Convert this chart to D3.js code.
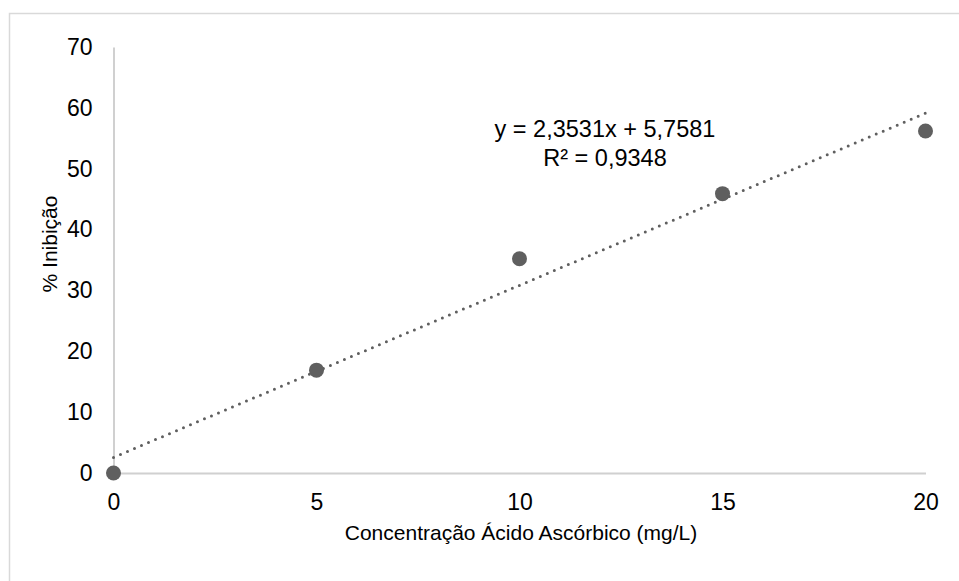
<!DOCTYPE html>
<html>
<head>
<meta charset="utf-8">
<script src="https://cdn.jsdelivr.net/npm/d3@7"></script>
<style>
  body { margin: 0; background: #fff; }
  text { font-family: "Liberation Sans", Arial, sans-serif; fill: #000; }
</style>
</head>
<body>
<div id="vis"></div>
<script>
// frame
const FRAME_WIDTH = 959;
const FRAME_HEIGHT = 581;
const MARGINS = { left: 113.5, right: 33.5, top: 47, bottom: 108 };

// data
const conc = [0, 5, 10, 15, 20];
const inhib = [0, 16.9, 35.2, 45.9, 56.2];
const xTicks = [0, 5, 10, 15, 20];
const yTicks = [0, 10, 20, 30, 40, 50, 60, 70];
const eqLines = ["y = 2,3531x + 5,7581", "R² = 0,9348"];

const VIS_WIDTH = FRAME_WIDTH - MARGINS.left - MARGINS.right;
const VIS_HEIGHT = FRAME_HEIGHT - MARGINS.top - MARGINS.bottom;

const svg = d3.select("#vis")
    .append("svg")
    .attr("width", FRAME_WIDTH)
    .attr("height", FRAME_HEIGHT);

// chart border (only top and left visible in the crop)
svg.append("path")
    .attr("d", `M9.5,${FRAME_HEIGHT} V13.5 H${FRAME_WIDTH}`)
    .attr("fill", "none")
    .attr("stroke", "#d9d9d9")
    .attr("stroke-width", 1.5);

const X_SCALE = d3.scaleLinear().domain([0, 20]).range([0, VIS_WIDTH]);
const Y_SCALE = d3.scaleLinear().domain([0, 70]).range([VIS_HEIGHT, 0]);

const g = svg.append("g")
    .attr("transform", `translate(${MARGINS.left},${MARGINS.top})`);

// axes
const xAxis = g.append("g")
    .attr("transform", `translate(0,${VIS_HEIGHT})`)
    .call(d3.axisBottom(X_SCALE).tickValues(xTicks).tickSize(0).tickPadding(21));
const yAxis = g.append("g")
    .call(d3.axisLeft(Y_SCALE).tickValues(yTicks).tickSize(0).tickPadding(21));

[xAxis, yAxis].forEach(ax => {
    ax.select(".domain").attr("stroke", "#d0d0d0").attr("stroke-width", 2);
    ax.selectAll("text")
        .style("font-family", "'Liberation Sans', Arial, sans-serif")
        .style("font-size", "23px")
        .attr("fill", "#000");
});

// trendline: least squares fit of the points
const mx = d3.mean(conc), my = d3.mean(inhib);
const slope = d3.sum(conc, (d, i) => (d - mx) * (inhib[i] - my)) /
              d3.sum(conc, d => (d - mx) * (d - mx));
const icpt = my - slope * mx;

g.append("line")
    .attr("x1", X_SCALE(0))
    .attr("y1", Y_SCALE(icpt))
    .attr("x2", X_SCALE(20))
    .attr("y2", Y_SCALE(icpt + slope * 20))
    .attr("stroke", "#5f5f5f")
    .attr("stroke-width", 3)
    .attr("stroke-linecap", "round")
    .attr("stroke-dasharray", "0,7.6");

// points
g.selectAll(".point")
    .data(conc)
    .enter()
    .append("circle")
    .attr("class", "point")
    .attr("cx", d => X_SCALE(d))
    .attr("cy", (d, i) => Y_SCALE(inhib[i]))
    .attr("r", 7.5)
    .attr("fill", "#5f5f5f");

// equation label
svg.append("text")
    .attr("x", 605)
    .attr("y", 137)
    .attr("text-anchor", "middle")
    .style("font-size", "23.5px")
    .selectAll("tspan")
    .data(eqLines)
    .enter()
    .append("tspan")
    .attr("x", 605)
    .attr("dy", (d, i) => i === 0 ? 0 : 28.5)
    .text(d => d);

// axis titles
svg.append("text")
    .attr("x", 521)
    .attr("y", 539.5)
    .attr("text-anchor", "middle")
    .style("font-size", "21px")
    .text("Concentração Ácido Ascórbico (mg/L)");

svg.append("text")
    .attr("transform", "translate(57,244) rotate(-90)")
    .attr("text-anchor", "middle")
    .style("font-size", "21px")
    .text("% Inibição");
</script>
</body>
</html>
